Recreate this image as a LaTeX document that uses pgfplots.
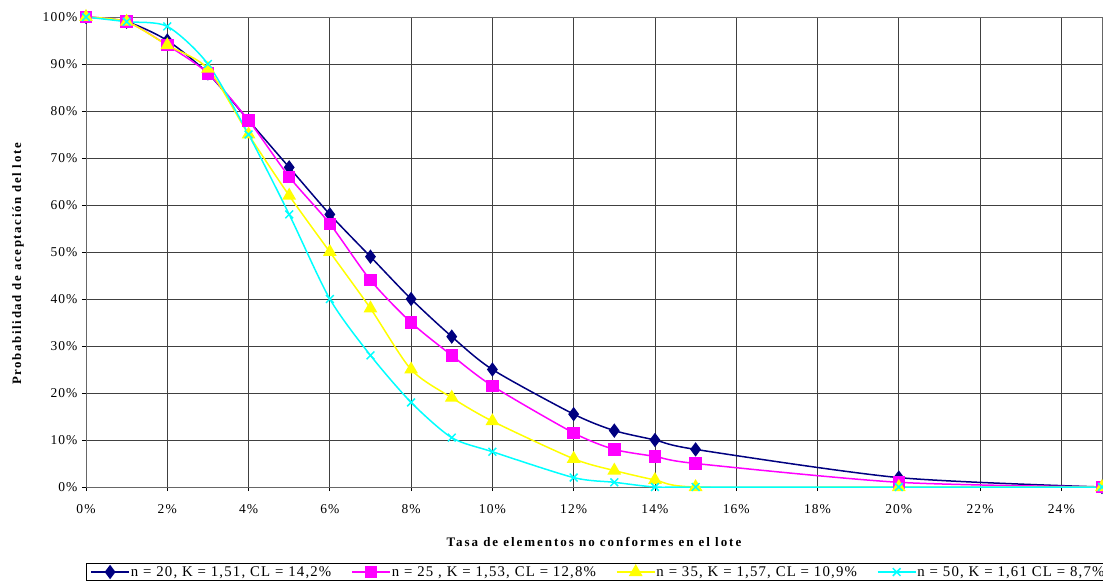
\documentclass[border=0pt]{standalone}
\usepackage{pgfplots}
\pgfplotsset{compat=1.18}
\usepackage{fontspec}
\setmainfont{Liberation Serif}
\newfontfamily\spaced[LetterSpace=8]{Liberation Serif}
\newfontfamily\spacedbold[LetterSpace=15]{Liberation Serif Bold}
\newfontfamily\spacedboldy[LetterSpace=13]{Liberation Serif Bold}
\definecolor{cnavy}{RGB}{0,0,128}
\definecolor{cmag}{RGB}{255,0,255}
\definecolor{cyel}{RGB}{255,255,0}
\definecolor{ccyan}{RGB}{0,255,255}
\begin{document}
\begin{tikzpicture}
\begin{axis}[
  scale only axis, width=1016pt, height=470pt,
  at={(0,0)}, anchor=south west,
  xmin=0, xmax=25, ymin=0, ymax=100,
  xtick={0,2,...,24}, ytick={0,10,...,100},
  xticklabel={\pgfmathprintnumber{\tick}\%},
  yticklabel={\pgfmathprintnumber{\tick}\%},
  /pgf/number format/assume math mode=true,
  ticklabel style={font=\spaced\fontsize{13.5}{15}\selectfont},
  xticklabel style={yshift=-10pt},
  yticklabel style={xshift=-1pt},
  tick align=outside, major tick length=4pt,
  tick style={draw=black, line width=0.8pt},
  xtick pos=bottom, ytick pos=left,
  grid=major,
  major grid style={draw=black!75, line width=0.7pt},
  axis line style={draw=black!60, line width=0.7pt},
  xlabel={Tasa de elementos no conformes en el lote},
  ylabel={Probabilidad de aceptación del lote},
  xlabel style={font=\spacedbold\fontsize{13}{15}\selectfont, yshift=-17pt},
  ylabel style={font=\spacedboldy\fontsize{12.8}{15}\selectfont, yshift=12pt, xshift=-12pt},
  legend columns=4,
  legend style={at={(0,-76pt)}, anchor=north west, draw=black, line width=0.7pt,
    font=\spaced\fontsize{14.8}{17}\selectfont, inner ysep=1pt, inner xsep=4pt,
    /tikz/every even column/.append style={column sep=18pt},
    /tikz/every odd column/.append style={column sep=-1pt}},
  legend image code/.code={\draw[mark repeat=2,mark phase=2] plot coordinates {(0pt,0pt) (19pt,0pt) (38pt,0pt)};},
  every axis plot/.append style={line width=1.5pt, smooth, tension=0.45},
]
\addplot[cnavy, mark=diamond*, mark size=6pt] coordinates {
 (0,100) (1,99) (2,95) (3,88) (4,78) (5,68) (6,58) (7,49) (8,40) (9,32) (10,25)
 (12,15.5) (13,12) (14,10) (15,8) (20,2) (25,0)};
\addlegendentry{n = 20, K = 1,51, CL = 14,2\%}
\addplot[cmag, mark=square*, mark size=5.5pt] coordinates {
 (0,100) (1,99) (2,94) (3,88) (4,78) (5,66) (6,56) (7,44) (8,35) (9,28) (10,21.5)
 (12,11.5) (13,8) (14,6.5) (15,5) (20,1) (25,0)};
\addlegendentry{n = 25 , K = 1,53, CL = 12,8\%}
\addplot[cyel, mark=triangle*, mark size=6.5pt] coordinates {
 (0,100) (1,99) (2,94) (3,89) (4,75) (5,62) (6,50) (7,38) (8,25) (9,19) (10,14)
 (12,6) (13,3.5) (14,1.5) (15,0) (20,0) (25,0)};
\addlegendentry{n = 35, K = 1,57, CL = 10,9\%}
\addplot[ccyan, mark=x, mark size=5.5pt, mark options={line width=1.5pt}] coordinates {
 (0,100) (1,99) (2,98) (3,90) (4,75) (5,58) (6,40) (7,28) (8,18) (9,10.5) (10,7.5)
 (12,2) (13,1) (14,0) (15,0) (20,0) (25,0)};
\addlegendentry{n = 50, K = 1,61 CL = 8,7\%}
\end{axis}
\pgfresetboundingbox
\path (-86pt,-94pt) rectangle (1017pt,487pt);
\end{tikzpicture}
\end{document}
